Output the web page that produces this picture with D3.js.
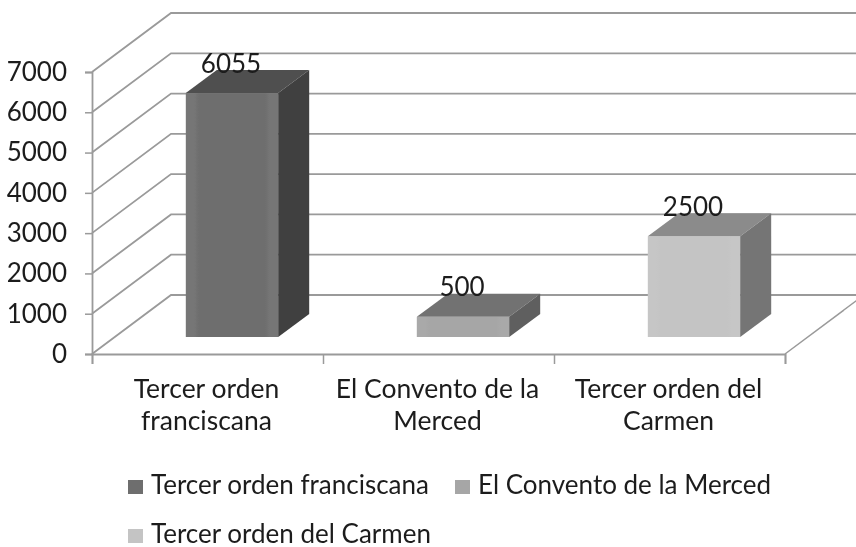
<!DOCTYPE html>
<html>
<head>
<meta charset="utf-8">
<script src="https://d3js.org/d3.v7.min.js"></script>
<style>
  html, body { margin: 0; padding: 0; background: #fff; }
  svg { display: block; }
  text { font-family: Lato, "Open Sans", sans-serif; fill: #1c1c1c; }
</style>
</head>
<body>
<svg id="chart"></svg>
<script>
const categories = ["Tercer orden franciscana", "El Convento de la Merced", "Tercer orden del Carmen"];
const values = [6055, 500, 2500];
const yTicks = [0, 1000, 2000, 3000, 4000, 5000, 6000, 7000];
const categoryLines = [["Tercer orden", "franciscana"], ["El Convento de la", "Merced"], ["Tercer orden del", "Carmen"]];
const frontColors = ["#6e6e6e", "#a6a6a6", "#c4c4c4"];
const edgeColors = ["#767676", "#a9a9a9", "#c6c6c6"];
const topColors = ["#505050", "#727272", "#8b8b8b"];
const sideColors = ["#404040", "#5e5e5e", "#757575"];

const width = 856, height = 547;
const fontSize = 26;

const svg = d3.select("#chart").attr("width", width).attr("height", height);
const defs = svg.append("defs");
defs.append("filter").attr("id", "soft")
    .append("feGaussianBlur").attr("stdDeviation", 0.5);

// Horizontal gradient for the lighter bevel on the front of each bar
frontColors.forEach((c, i) => {
    const g = defs.append("linearGradient").attr("id", `front${i}`);
    [[0, edgeColors[i]], [0.09, edgeColors[i]], [0.14, c], [0.86, c], [0.91, edgeColors[i]], [1, edgeColors[i]]]
        .forEach(([o, col]) => g.append("stop").attr("offset", o).attr("stop-color", col));
});

const root = svg.append("g").attr("filter", "url(#soft)");

const y = d3.scaleLinear().domain([0, 7000]).range([354, 72]);
const x = d3.scaleBand().domain(categories).range([92, 785]).paddingInner(0.6).paddingOuter(0.3);

// Oblique offsets: full chart depth, front face of the bars, bar depth
const wall = {dx: 79, dy: -59};
const front = {dx: 24.5, dy: -17};
const depth = {dx: 31, dy: -23};

const grid = "#9a9a9a";

// Side wall and back wall gridlines
root.append("g").selectAll("path")
    .data(yTicks)
    .enter().append("path")
    .attr("d", d => `M${92},${y(d)}L${92 + wall.dx},${y(d) + wall.dy}L${width},${y(d) + wall.dy}`)
    .attr("fill", "none")
    .attr("stroke", grid)
    .attr("stroke-width", 1.8);

// Floor right edge
root.append("line")
    .attr("x1", 785).attr("y1", y(0))
    .attr("x2", 785 + wall.dx).attr("y2", y(0) + wall.dy)
    .attr("stroke", grid).attr("stroke-width", 1.5);

// Axes
const yAxis = d3.axisLeft(y).tickValues(yTicks).tickSize(7).tickPadding(18).tickFormat(d3.format("d"));
const yG = root.append("g").attr("transform", "translate(92,0)").call(yAxis);
const xAxis = d3.axisBottom(d3.scaleLinear().domain([0, 3]).range([92, 785])).ticks(3).tickSize(10).tickFormat("");
const xG = root.append("g").attr("transform", `translate(0,${y(0)})`).call(xAxis);
[yG, xG].forEach(g => {
    g.selectAll("path.domain").attr("stroke", grid).attr("stroke-width", 1.8);
    g.selectAll("line").attr("stroke", grid).attr("stroke-width", 1.5);
});
yG.selectAll("text")
    .style("font-size", `${fontSize}px`)
    .style("font-family", "Lato, sans-serif");

// Bars
categories.forEach((c, i) => {
    const x0 = x(c) + front.dx;
    const x1 = x0 + x.bandwidth();
    const y0 = y(0) + front.dy;
    const y1 = y(values[i]) + front.dy;
    const bar = root.append("g");
    bar.append("rect")
        .attr("x", x0).attr("y", y1)
        .attr("width", x1 - x0).attr("height", y0 - y1)
        .attr("fill", `url(#front${i})`);
    bar.append("polygon")
        .attr("points", [[x0, y1], [x1, y1], [x1 + depth.dx, y1 + depth.dy], [x0 + depth.dx, y1 + depth.dy]].join(" "))
        .attr("fill", topColors[i]);
    bar.append("polygon")
        .attr("points", [[x1, y1], [x1 + depth.dx, y1 + depth.dy], [x1 + depth.dx, y0 + depth.dy], [x1, y0]].join(" "))
        .attr("fill", sideColors[i]);
    bar.append("text")
        .attr("x", (x0 + x1) / 2 - 1)
        .attr("y", y1 - 20.5)
        .attr("text-anchor", "middle")
        .style("font-size", `${fontSize}px`)
        .text(values[i]);
});

// Category labels
categories.forEach((c, i) => {
    const cx = x(c) + x.bandwidth() / 2 - 1;
    categoryLines[i].forEach((line, j) => {
        root.append("text")
            .attr("x", cx)
            .attr("y", 398 + j * 32)
            .attr("text-anchor", "middle")
            .style("font-size", `${fontSize + 0.5}px`)
            .text(line);
    });
});

// Legend
const legendPos = [[128, 480], [455, 480], [128, 529]];
categories.forEach((c, i) => {
    const [lx, ly] = legendPos[i];
    root.append("rect")
        .attr("x", lx).attr("y", ly)
        .attr("width", 15).attr("height", 14)
        .attr("fill", frontColors[i]);
    root.append("text")
        .attr("x", lx + 23)
        .attr("y", ly + 13.5)
        .style("font-size", `${fontSize}px`)
        .text(c);
});
</script>
</body>
</html>
